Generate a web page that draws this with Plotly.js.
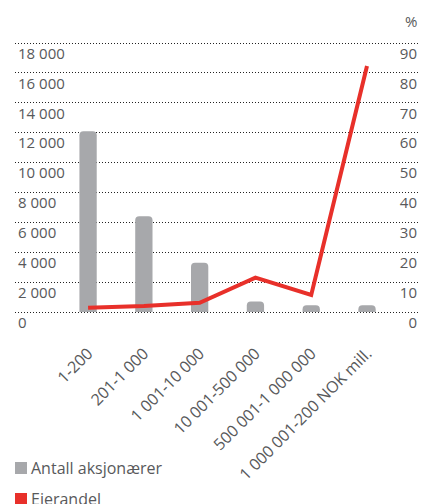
<!DOCTYPE html>
<html><head><meta charset="utf-8">
<script src="https://cdn.plot.ly/plotly-3.0.1.min.js"></script>
<style>html,body{margin:0;padding:0;background:#fff}#c{width:433px;height:504px}</style>
</head><body><div id="c"></div>
<script>
const categories = ["1-200", "201-1 000", "1 001-10 000", "10 001-500 000", "500 001-1 000 000", "1 000 001-200 NOK mill."];
const shareholders = [12100, 6400, 3300, 700, 450, 450];
const ownershipPct = [1.4, 2.0, 3.1, 11.5, 5.7, 82.3];
const leftTicks = [0, 2000, 4000, 6000, 8000, 10000, 12000, 14000, 16000, 18000];
const leftTickText = ["0", "2 000", "4 000", "6 000", "8 000", "10 000", "12 000", "14 000", "16 000", "18 000"];
const rightTicks = [0, 10, 20, 30, 40, 50, 60, 70, 80, 90];
const legendNames = ["Antall aksjonærer", "Eierandel"];

const W = 433, H = 504, L = 15, R = 13, T = 38, B = 170;
const pw = W - L - R, ph = H - T - B;
const px = x => (x - L) / pw;
const py = y => (H - B - y) / ph;
const GREY = "#a7a8ab", RED = "#e8302a", TXT = "#58595b";
const FONT = "Open Sans, sans-serif";
const yRange = [-1472, 18335];

const traces = [
  {type: "bar", x: categories, y: shareholders, name: legendNames[0], marker: {color: GREY, cornerradius: 4}, width: 0.31, showlegend: false, hoverinfo: "skip"},
  {type: "scatter", mode: "lines", x: categories, y: ownershipPct, yaxis: "y2", name: legendNames[1], line: {color: RED, width: 4}, showlegend: false, hoverinfo: "skip"}
];

const layout = {
  width: W, height: H, margin: {l: L, r: R, t: T, b: B, pad: 0}, paper_bgcolor: "#fff", plot_bgcolor: "#fff",
  font: {family: FONT, color: TXT, size: 13}, showlegend: false,
  xaxis: {type: "category", range: [-1.31, 5.95], showgrid: false, zeroline: false, showline: false, ticks: "", tickangle: -45, tickfont: {size: 16, color: TXT, family: FONT}, ticklabelstandoff: 6},
  yaxis: {range: yRange, tickvals: leftTicks, ticktext: leftTickText, showgrid: true, gridcolor: "#222", gridwidth: 1, griddash: "1px,2px", zeroline: false, showline: false, ticks: "", ticklabelposition: "inside bottom", tickfont: {size: 15, color: TXT, family: FONT}},
  yaxis2: {range: [yRange[0] / 200, yRange[1] / 200], tickvals: rightTicks, overlaying: "y", side: "right", showgrid: false, zeroline: false, showline: false, ticks: "", ticklabelposition: "inside bottom", tickfont: {size: 15, color: TXT, family: FONT}},
  shapes: [
    {type: "rect", xref: "paper", yref: "paper", x0: px(15), x1: px(27), y0: py(474), y1: py(462), fillcolor: GREY, line: {width: 0}},
    {type: "rect", xref: "paper", yref: "paper", x0: px(15), x1: px(27), y0: py(505), y1: py(493), fillcolor: RED, line: {width: 0}}
  ],
  annotations: [
    {xref: "paper", yref: "paper", x: px(419), y: py(21), text: "%", showarrow: false, xanchor: "right", yanchor: "middle", font: {size: 15, color: TXT}},
    {xref: "paper", yref: "paper", x: px(29), y: py(468), text: legendNames[0], showarrow: false, xanchor: "left", yanchor: "middle", font: {size: 16, color: TXT}},
    {xref: "paper", yref: "paper", x: px(29), y: py(499), text: legendNames[1], showarrow: false, xanchor: "left", yanchor: "middle", font: {size: 16, color: TXT}}
  ]
};
Plotly.newPlot("c", traces, layout, {staticPlot: true, displayModeBar: false});
</script></body></html>
